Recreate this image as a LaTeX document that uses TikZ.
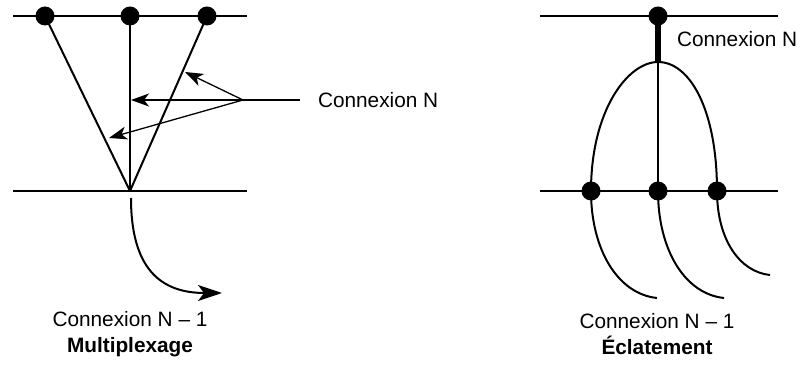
\documentclass[tikz,border=0pt]{standalone}
\usepackage{fontspec}
\setmainfont{Liberation Sans}
\usetikzlibrary{arrows.meta}

\begin{document}
\begin{tikzpicture}[x=0.5pt, y=-0.5pt, line width=1pt,
  dot/.style={circle, fill, inner sep=0pt, minimum size=9.5pt},
  lbl/.style={font=\fontsize{10.4}{12.8}\selectfont, inner sep=0pt, align=center},
  fleche/.style={line width=0.65pt, -{Stealth[length=9pt, width=6.5pt, inset=2.5pt]}}]
\useasboundingbox (0,0) rectangle (802,367);
% multiplexage
\coordinate (hautG) at (13,16);  \coordinate (hautD) at (247,16);
\coordinate (basG) at (13,191);  \coordinate (basD) at (247,191);
\coordinate (pied) at (130,191);
\draw (hautG) -- (hautD);
\draw (basG) -- (basD);
\node[dot] (m1) at (45,16) {};
\node[dot] (m2) at (130,16) {};
\node[dot] (m3) at (207,16) {};
\draw (m1.center) -- (pied);
\draw (m2.center) -- (pied);
\draw (m3.center) -- (pied);
\node[lbl, anchor=west] (cnG) at (317,100) {Connexion N};
\coordinate (fourche) at (243,100);
\coordinate (fin) at (300,100);
\draw[line width=0.65pt] (fin) -- (fourche);
\draw[fleche] (fourche) -- (185,72);
\draw[fleche] (fourche) -- (131,100);
\draw[fleche] (fourche) -- (109,138);
\coordinate (sortie) at (131,198);
\coordinate (bout) at (222,293);
\draw[-{Stealth[length=12pt, width=8pt, inset=3pt]}] (sortie) .. controls (131,268) and (160,293) .. (bout);
\node[lbl] (multi) at (130,334) {Connexion N -- 1\\\textbf{Multiplexage}};
% eclatement
\coordinate (hautG2) at (540,16);  \coordinate (hautD2) at (778,16);
\coordinate (basG2) at (540,191);  \coordinate (basD2) at (778,191);
\coordinate (sommet) at (658,62);
\draw (hautG2) -- (hautD2);
\draw (basG2) -- (basD2);
\node[dot] (e0) at (658,16) {};
\draw[line width=2.6pt] (e0.center) -- (sommet);
\node[lbl, anchor=west] (cnD) at (676,39) {Connexion N};
\draw (591,191) .. controls (591,110) and (628,62) .. (sommet)
  .. controls (690,62) and (717,110) .. (717,191);
\draw (sommet) -- (658,191);
\node[dot] (e1) at (591,191) {};
\node[dot] (e2) at (658,191) {};
\node[dot] (e3) at (717,191) {};
\coordinate (q1) at (657,298);
\coordinate (q2) at (724,298);
\coordinate (q3) at (770,275);
\draw (e1.center) .. controls (591,250) and (618,294) .. (q1);
\draw (e2.center) .. controls (658,250) and (685,294) .. (q2);
\draw (e3.center) .. controls (717,240) and (740,272) .. (q3);
\node[lbl] (ecla) at (657,334) {Connexion N -- 1\\\textbf{Éclatement}};
\end{tikzpicture}
\end{document}
